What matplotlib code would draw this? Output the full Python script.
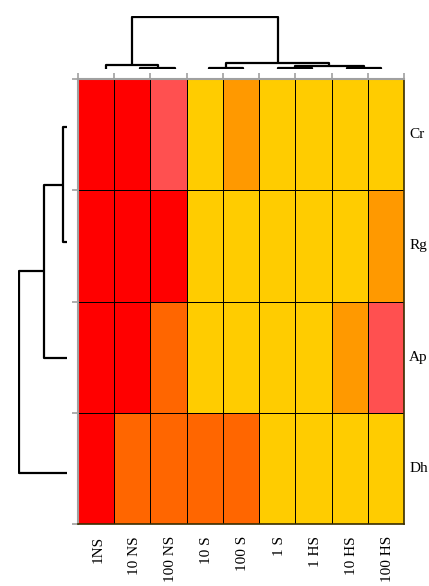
import matplotlib
matplotlib.use('Agg')
import matplotlib.pyplot as plt
from matplotlib.colors import ListedColormap
import numpy as np

# heatmap levels: 0 = yellow ... 4 = red
col_labels = ['1NS', '10 NS', '100 NS', '10 S', '100 S', '1 S', '1 HS', '10 HS', '100 HS']
row_labels = ['Cr', 'Rg', 'Ap', 'Dh']
levels = [
    [4, 4, 3, 0, 1, 0, 0, 0, 0],
    [4, 4, 4, 0, 0, 0, 0, 0, 1],
    [4, 4, 2, 0, 0, 0, 0, 1, 3],
    [4, 2, 2, 2, 2, 0, 0, 0, 0],
]
level_colors = ['#FFCC00', '#FF9900', '#FF6600', '#FF5050', '#FF0000']

# dendrogram merges: (child a, child b, height); leaves first, new nodes numbered after
col_merges = [(1, 2, 1.5), (0, 9, 4), (3, 4, 1), (5, 6, 1), (7, 8, 1),
              (12, 13, 3), (11, 14, 6), (10, 15, 52)]
row_merges = [(0, 1, 4), (4, 2, 23), (5, 3, 48)]


def draw_dendro(ax, n_leaves, merges, horizontal=False):
    pos = {i: float(i) for i in range(n_leaves)}
    hgt = {i: 0.0 for i in range(n_leaves)}
    node = n_leaves
    for a, b, h in merges:
        xs = [pos[a], pos[a], pos[b], pos[b]]
        ys = [hgt[a], h, h, hgt[b]]
        if horizontal:
            ax.plot(ys, xs, color='black', lw=1.6, solid_capstyle='butt')
        else:
            ax.plot(xs, ys, color='black', lw=1.6, solid_capstyle='butt')
        pos[node] = (pos[a] + pos[b]) / 2
        hgt[node] = h
        node += 1


W, H = 429, 586
fig = plt.figure(figsize=(W / 100, H / 100), dpi=100)


def px_axes(x0, y0, x1, y1):
    return fig.add_axes([x0 / W, 1 - y1 / H, (x1 - x0) / W, (y1 - y0) / H])


# heatmap
ax = px_axes(78, 79, 404, 524)
data = np.array(levels)
ax.pcolormesh(data, cmap=ListedColormap(level_colors), vmin=-0.5, vmax=4.5,
              edgecolors='black', linewidth=0.55)
ax.set_xlim(0, len(col_labels))
ax.set_ylim(len(row_labels), 0)
ax.xaxis.tick_top()
ax.set_xticks(np.arange(len(col_labels) + 1))
ax.set_yticks(np.arange(len(row_labels) + 1))
ax.set_xticklabels([])
ax.set_yticklabels([])
ax.tick_params(length=4, width=1.2, color='#A0A0A0', direction='out')
for side in ['top', 'left']:
    ax.spines[side].set_color('#A0A0A0')
    ax.spines[side].set_linewidth(1.5)
for side in ['bottom', 'right']:
    ax.spines[side].set_color('#3a2e00')
    ax.spines[side].set_linewidth(1.2)

for i, lab in enumerate(col_labels):
    ax.text(i + 0.55, len(row_labels) + 0.11, lab, rotation=90, ha='center', va='top',
            family='Liberation Serif', fontsize=11)
for j, lab in enumerate(row_labels):
    ax.text(len(col_labels) + 0.14, j + 0.5, lab, ha='left', va='center',
            family='Liberation Serif', fontsize=11)

# column dendrogram
axt = px_axes(88.8, 16, 398.2, 69)
draw_dendro(axt, len(col_labels), col_merges)
axt.set_xlim(-0.5, len(col_labels) - 0.5)
axt.set_ylim(0, 53)
axt.axis('off')

# row dendrogram
axl = px_axes(18, 69.3, 67, 530.7)
draw_dendro(axl, len(row_labels), row_merges, horizontal=True)
axl.set_ylim(len(row_labels) - 0.5, -0.5)
axl.set_xlim(49, 0)
axl.axis('off')

fig.savefig('out.png', dpi=100)
